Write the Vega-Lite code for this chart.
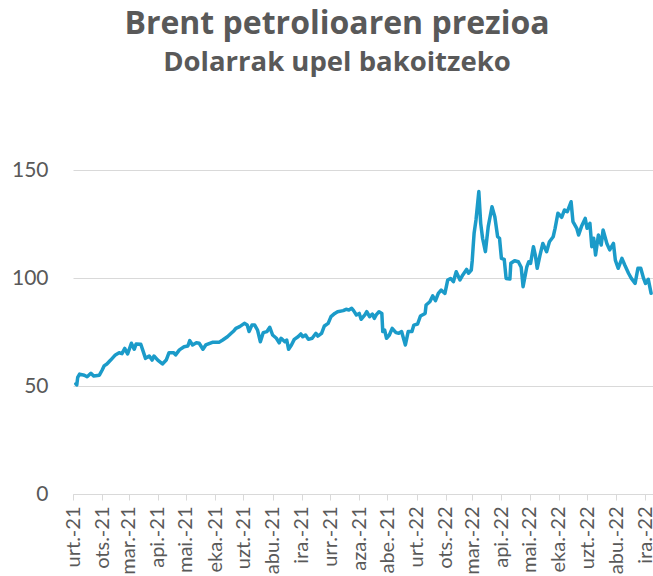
{
  "$schema": "https://vega.github.io/schema/vega-lite/v6.json",
  "autosize": "none",
  "width": 580,
  "height": 324,
  "padding": {"left": 73, "top": 170, "right": 0, "bottom": 82},
  "background": "white",
  "title": {
    "text": "Brent petrolioaren prezioa",
    "subtitle": "Dolarrak upel bakoitzeko",
    "anchor": "middle",
    "dx": -26,
    "font": "Open Sans",
    "subtitleFont": "Open Sans",
    "fontSize": 32,
    "subtitleFontSize": 27.5,
    "fontWeight": "bold",
    "subtitleFontWeight": "bold",
    "color": "#595959",
    "subtitleColor": "#595959",
    "subtitlePadding": 8,
    "offset": 82
  },
  "data": {
    "values": [
      {"date": "2021-01-04", "price": 51.0},
      {"date": "2021-01-05", "price": 50.5},
      {"date": "2021-01-06", "price": 54.0},
      {"date": "2021-01-08", "price": 55.5},
      {"date": "2021-01-13", "price": 55.0},
      {"date": "2021-01-16", "price": 54.3},
      {"date": "2021-01-20", "price": 55.9},
      {"date": "2021-01-23", "price": 54.6},
      {"date": "2021-01-29", "price": 55.0},
      {"date": "2021-02-01", "price": 57.4},
      {"date": "2021-02-03", "price": 59.3},
      {"date": "2021-02-06", "price": 60.2},
      {"date": "2021-02-10", "price": 62.0},
      {"date": "2021-02-15", "price": 64.4},
      {"date": "2021-02-19", "price": 65.4},
      {"date": "2021-02-22", "price": 65.0},
      {"date": "2021-02-25", "price": 67.4},
      {"date": "2021-02-28", "price": 64.8},
      {"date": "2021-03-04", "price": 69.8},
      {"date": "2021-03-07", "price": 67.0},
      {"date": "2021-03-09", "price": 69.4},
      {"date": "2021-03-14", "price": 69.3},
      {"date": "2021-03-16", "price": 66.7},
      {"date": "2021-03-19", "price": 62.8},
      {"date": "2021-03-23", "price": 63.9},
      {"date": "2021-03-26", "price": 62.0},
      {"date": "2021-03-28", "price": 63.9},
      {"date": "2021-04-01", "price": 62.0},
      {"date": "2021-04-06", "price": 60.2},
      {"date": "2021-04-10", "price": 62.0},
      {"date": "2021-04-13", "price": 65.4},
      {"date": "2021-04-18", "price": 65.4},
      {"date": "2021-04-20", "price": 64.4},
      {"date": "2021-04-24", "price": 66.7},
      {"date": "2021-04-29", "price": 68.2},
      {"date": "2021-05-03", "price": 68.5},
      {"date": "2021-05-05", "price": 71.0},
      {"date": "2021-05-08", "price": 69.0},
      {"date": "2021-05-12", "price": 70.0},
      {"date": "2021-05-15", "price": 69.8},
      {"date": "2021-05-19", "price": 67.0},
      {"date": "2021-05-22", "price": 69.0},
      {"date": "2021-05-29", "price": 70.2},
      {"date": "2021-06-05", "price": 70.2},
      {"date": "2021-06-09", "price": 71.3},
      {"date": "2021-06-14", "price": 72.8},
      {"date": "2021-06-18", "price": 74.4},
      {"date": "2021-06-21", "price": 75.6},
      {"date": "2021-06-23", "price": 76.7},
      {"date": "2021-06-27", "price": 77.5},
      {"date": "2021-07-02", "price": 79.0},
      {"date": "2021-07-05", "price": 78.2},
      {"date": "2021-07-07", "price": 75.2},
      {"date": "2021-07-10", "price": 78.2},
      {"date": "2021-07-13", "price": 78.2},
      {"date": "2021-07-16", "price": 75.9},
      {"date": "2021-07-19", "price": 70.5},
      {"date": "2021-07-22", "price": 74.7},
      {"date": "2021-07-26", "price": 75.2},
      {"date": "2021-07-29", "price": 77.2},
      {"date": "2021-08-01", "price": 73.6},
      {"date": "2021-08-05", "price": 72.1},
      {"date": "2021-08-08", "price": 70.0},
      {"date": "2021-08-10", "price": 72.1},
      {"date": "2021-08-14", "price": 70.5},
      {"date": "2021-08-16", "price": 71.3},
      {"date": "2021-08-18", "price": 67.0},
      {"date": "2021-08-21", "price": 69.0},
      {"date": "2021-08-24", "price": 71.6},
      {"date": "2021-08-28", "price": 72.8},
      {"date": "2021-08-31", "price": 74.1},
      {"date": "2021-09-02", "price": 72.8},
      {"date": "2021-09-05", "price": 73.6},
      {"date": "2021-09-08", "price": 71.6},
      {"date": "2021-09-12", "price": 72.1},
      {"date": "2021-09-16", "price": 74.4},
      {"date": "2021-09-18", "price": 73.1},
      {"date": "2021-09-22", "price": 74.4},
      {"date": "2021-09-25", "price": 77.8},
      {"date": "2021-09-29", "price": 79.0},
      {"date": "2021-10-02", "price": 82.1},
      {"date": "2021-10-06", "price": 83.6},
      {"date": "2021-10-09", "price": 84.4},
      {"date": "2021-10-15", "price": 84.9},
      {"date": "2021-10-18", "price": 85.5},
      {"date": "2021-10-21", "price": 85.2},
      {"date": "2021-10-24", "price": 86.0},
      {"date": "2021-10-26", "price": 84.9},
      {"date": "2021-10-29", "price": 82.9},
      {"date": "2021-11-01", "price": 83.6},
      {"date": "2021-11-03", "price": 80.9},
      {"date": "2021-11-07", "price": 82.9},
      {"date": "2021-11-09", "price": 84.4},
      {"date": "2021-11-12", "price": 82.1},
      {"date": "2021-11-15", "price": 83.3},
      {"date": "2021-11-17", "price": 81.3},
      {"date": "2021-11-19", "price": 82.9},
      {"date": "2021-11-22", "price": 84.4},
      {"date": "2021-11-25", "price": 83.6},
      {"date": "2021-11-26", "price": 75.2},
      {"date": "2021-11-28", "price": 75.9},
      {"date": "2021-11-30", "price": 72.1},
      {"date": "2021-12-03", "price": 73.6},
      {"date": "2021-12-06", "price": 76.7},
      {"date": "2021-12-10", "price": 74.7},
      {"date": "2021-12-13", "price": 74.4},
      {"date": "2021-12-16", "price": 75.2},
      {"date": "2021-12-17", "price": 73.6},
      {"date": "2021-12-20", "price": 69.0},
      {"date": "2021-12-23", "price": 75.2},
      {"date": "2021-12-27", "price": 75.2},
      {"date": "2021-12-29", "price": 78.2},
      {"date": "2022-01-02", "price": 78.7},
      {"date": "2022-01-05", "price": 82.4},
      {"date": "2022-01-10", "price": 83.6},
      {"date": "2022-01-11", "price": 87.5},
      {"date": "2022-01-15", "price": 89.0},
      {"date": "2022-01-18", "price": 91.7},
      {"date": "2022-01-21", "price": 89.5},
      {"date": "2022-01-24", "price": 92.9},
      {"date": "2022-01-27", "price": 94.4},
      {"date": "2022-01-31", "price": 92.9},
      {"date": "2022-02-03", "price": 99.1},
      {"date": "2022-02-06", "price": 99.8},
      {"date": "2022-02-09", "price": 98.3},
      {"date": "2022-02-12", "price": 102.9},
      {"date": "2022-02-16", "price": 99.1},
      {"date": "2022-02-19", "price": 101.4},
      {"date": "2022-02-23", "price": 104.0},
      {"date": "2022-02-25", "price": 102.2},
      {"date": "2022-02-28", "price": 103.7},
      {"date": "2022-03-01", "price": 108.0},
      {"date": "2022-03-02", "price": 114.5},
      {"date": "2022-03-03", "price": 120.7},
      {"date": "2022-03-05", "price": 126.9},
      {"date": "2022-03-08", "price": 140.0},
      {"date": "2022-03-10", "price": 125.3},
      {"date": "2022-03-12", "price": 118.4},
      {"date": "2022-03-15", "price": 112.2},
      {"date": "2022-03-18", "price": 123.8},
      {"date": "2022-03-22", "price": 133.0},
      {"date": "2022-03-25", "price": 128.4},
      {"date": "2022-03-28", "price": 119.1},
      {"date": "2022-03-30", "price": 118.4},
      {"date": "2022-04-01", "price": 109.1},
      {"date": "2022-04-04", "price": 108.6},
      {"date": "2022-04-06", "price": 99.8},
      {"date": "2022-04-10", "price": 99.5},
      {"date": "2022-04-11", "price": 106.8},
      {"date": "2022-04-15", "price": 108.0},
      {"date": "2022-04-19", "price": 107.5},
      {"date": "2022-04-22", "price": 105.0},
      {"date": "2022-04-24", "price": 96.0},
      {"date": "2022-04-28", "price": 105.2},
      {"date": "2022-04-30", "price": 107.5},
      {"date": "2022-05-02", "price": 106.8},
      {"date": "2022-05-05", "price": 114.5},
      {"date": "2022-05-07", "price": 110.6},
      {"date": "2022-05-09", "price": 104.5},
      {"date": "2022-05-12", "price": 110.6},
      {"date": "2022-05-15", "price": 116.0},
      {"date": "2022-05-19", "price": 112.2},
      {"date": "2022-05-22", "price": 116.8},
      {"date": "2022-05-26", "price": 119.1},
      {"date": "2022-05-28", "price": 123.0},
      {"date": "2022-05-31", "price": 130.0},
      {"date": "2022-06-04", "price": 128.1},
      {"date": "2022-06-07", "price": 131.5},
      {"date": "2022-06-10", "price": 130.7},
      {"date": "2022-06-14", "price": 135.3},
      {"date": "2022-06-16", "price": 126.1},
      {"date": "2022-06-20", "price": 123.0},
      {"date": "2022-06-22", "price": 119.9},
      {"date": "2022-06-25", "price": 123.8},
      {"date": "2022-06-29", "price": 127.6},
      {"date": "2022-07-01", "price": 123.0},
      {"date": "2022-07-04", "price": 125.3},
      {"date": "2022-07-06", "price": 114.5},
      {"date": "2022-07-08", "price": 118.4},
      {"date": "2022-07-10", "price": 110.6},
      {"date": "2022-07-13", "price": 119.9},
      {"date": "2022-07-16", "price": 115.3},
      {"date": "2022-07-18", "price": 122.2},
      {"date": "2022-07-22", "price": 116.0},
      {"date": "2022-07-25", "price": 113.0},
      {"date": "2022-07-29", "price": 116.0},
      {"date": "2022-07-31", "price": 108.3},
      {"date": "2022-08-03", "price": 104.5},
      {"date": "2022-08-07", "price": 109.1},
      {"date": "2022-08-10", "price": 106.0},
      {"date": "2022-08-14", "price": 102.2},
      {"date": "2022-08-17", "price": 99.8},
      {"date": "2022-08-21", "price": 97.5},
      {"date": "2022-08-24", "price": 104.5},
      {"date": "2022-08-27", "price": 104.5},
      {"date": "2022-08-30", "price": 99.8},
      {"date": "2022-09-01", "price": 97.5},
      {"date": "2022-09-04", "price": 99.4},
      {"date": "2022-09-07", "price": 92.9}
    ]
  },
  "mark": {"type": "line", "color": "#1B9BC9", "strokeWidth": 3.5, "strokeJoin": "round", "strokeCap": "round"},
  "encoding": {
    "x": {
      "field": "date",
      "type": "temporal",
      "title": null,
      "scale": {
        "type": "utc",
        "domain": [
          {"year": 2021, "month": 1, "date": 1, "utc": true},
          {"year": 2022, "month": 9, "date": 9, "utc": true}
        ]
      },
      "axis": {
        "values": [
          {"year": 2021, "month": 1, "date": 1, "utc": true},
          {"year": 2021, "month": 2, "date": 1, "utc": true},
          {"year": 2021, "month": 3, "date": 1, "utc": true},
          {"year": 2021, "month": 4, "date": 1, "utc": true},
          {"year": 2021, "month": 5, "date": 1, "utc": true},
          {"year": 2021, "month": 6, "date": 1, "utc": true},
          {"year": 2021, "month": 7, "date": 1, "utc": true},
          {"year": 2021, "month": 8, "date": 1, "utc": true},
          {"year": 2021, "month": 9, "date": 1, "utc": true},
          {"year": 2021, "month": 10, "date": 1, "utc": true},
          {"year": 2021, "month": 11, "date": 1, "utc": true},
          {"year": 2021, "month": 12, "date": 1, "utc": true},
          {"year": 2022, "month": 1, "date": 1, "utc": true},
          {"year": 2022, "month": 2, "date": 1, "utc": true},
          {"year": 2022, "month": 3, "date": 1, "utc": true},
          {"year": 2022, "month": 4, "date": 1, "utc": true},
          {"year": 2022, "month": 5, "date": 1, "utc": true},
          {"year": 2022, "month": 6, "date": 1, "utc": true},
          {"year": 2022, "month": 7, "date": 1, "utc": true},
          {"year": 2022, "month": 8, "date": 1, "utc": true},
          {"year": 2022, "month": 9, "date": 1, "utc": true}
        ],
        "labelExpr": "['urt.','ots.','mar.','api.','mai.','eka.','uzt.','abu.','ira.','urr.','aza.','abe.'][utcmonth(datum.value)] + '-' + utcFormat(datum.value, '%y')",
        "labelAngle": -90,
        "labelAlign": "right",
        "labelBaseline": "middle",
        "labelFont": "Lato",
        "labelFontSize": 20,
        "labelColor": "#595959",
        "labelPadding": 6,
        "labelOverlap": false,
        "labelBound": false,
        "labelFlush": false,
        "domainColor": "#d9d9d9",
        "domainWidth": 1,
        "tickColor": "#d9d9d9",
        "tickSize": 6,
        "grid": false
      }
    },
    "y": {
      "field": "price",
      "type": "quantitative",
      "title": null,
      "scale": {"domain": [0, 150], "nice": false, "zero": true},
      "axis": {
        "values": [0, 50, 100, 150],
        "domain": false,
        "ticks": false,
        "grid": true,
        "gridColor": "#d9d9d9",
        "gridWidth": 1,
        "labelFont": "Lato",
        "labelFontSize": 21,
        "labelColor": "#595959",
        "labelPadding": 25
      }
    }
  },
  "config": {
    "view": {"stroke": null}
  }
}
